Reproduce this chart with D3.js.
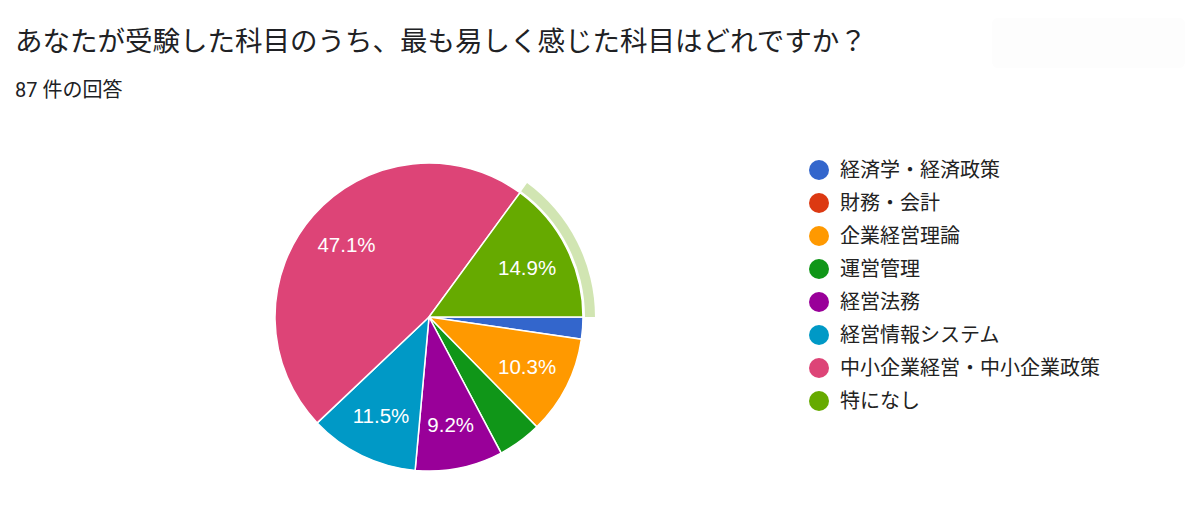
<!DOCTYPE html>
<html>
<head>
<meta charset="utf-8">
<script src="https://cdn.jsdelivr.net/npm/d3@7"></script>
<style>
  body { margin: 0; background: #fff; }
  text { font-family: Roboto, "Noto Sans CJK JP", sans-serif; }
</style>
</head>
<body>
<div id="chart"></div>
<script>
const title = 'あなたが受験した科目のうち、最も易しく感じた科目はどれですか？';
const subtitle = '87 件の回答';
const categories = ['経済学・経済政策', '財務・会計', '企業経営理論', '運営管理', '経営法務', '経営情報システム', '中小企業経営・中小企業政策', '特になし'];
const counts = [2, 0, 9, 4, 8, 10, 41, 13];
const colors = ['#3366cc', '#dc3912', '#ff9900', '#109618', '#990099', '#0099c6', '#dd4477', '#66aa00'];
const highlighted = '特になし';

const width = 1200;
const height = 513;
const cx = 429, cy = 317, r = 154;

const svg = d3.select('#chart')
  .append('svg')
  .attr('width', width)
  .attr('height', height);

// faint box top right
svg.append('rect')
  .attr('x', 992).attr('y', 18)
  .attr('width', 193).attr('height', 50)
  .attr('rx', 6)
  .attr('fill', '#fdfdfd');

svg.append('text')
  .attr('x', 15).attr('y', 51)
  .attr('font-size', 27.5)
  .attr('fill', '#202124')
  .text(title);

svg.append('text')
  .attr('x', 15).attr('y', 97)
  .attr('font-size', 20)
  .attr('fill', '#202124')
  .text(subtitle);

const total = d3.sum(counts);
const data = categories.map((c, i) => ({ name: c, value: counts[i], color: colors[i] }));

const pie = d3.pie()
  .sort(null)
  .value(d => d.value)
  .startAngle(Math.PI / 2)
  .endAngle(Math.PI / 2 + 2 * Math.PI);

const arcs = pie(data);
const arc = d3.arc().innerRadius(0).outerRadius(r);
const ring = d3.arc().innerRadius(r + 2).outerRadius(r + 12);
const labelArc = d3.arc().innerRadius(110).outerRadius(110);

const g = svg.append('g').attr('transform', `translate(${cx},${cy})`);

g.selectAll('path.hl')
  .data(arcs.filter(d => d.data.name === highlighted))
  .join('path')
    .attr('class', 'hl')
    .attr('d', ring)
    .attr('fill', d => d.data.color)
    .attr('opacity', 0.3);

g.selectAll('path.slice')
  .data(arcs.filter(d => d.value > 0))
  .join('path')
    .attr('class', 'slice')
    .attr('d', arc)
    .attr('fill', d => d.data.color)
    .attr('stroke', '#fff')
    .attr('stroke-width', 1.5);

g.selectAll('text.pct')
  .data(arcs.filter(d => d.value / total >= 0.05))
  .join('text')
    .attr('class', 'pct')
    .attr('transform', d => `translate(${labelArc.centroid(d)})`)
    .attr('text-anchor', 'middle')
    .attr('dy', '0.36em')
    .attr('fill', '#fff')
    .attr('font-size', 20.5)
    .style('font-family', 'Arial, "Liberation Sans", sans-serif')
    .text(d => (d.value / total * 100).toFixed(1) + '%');

const legend = svg.append('g').attr('transform', 'translate(819,170)');
const row = legend.selectAll('g')
  .data(data)
  .join('g')
    .attr('transform', (d, i) => `translate(0,${i * 33})`);
row.append('circle')
  .attr('r', 10)
  .attr('fill', d => d.color);
row.append('text')
  .attr('x', 21)
  .attr('dy', '0.36em')
  .attr('font-size', 20)
  .attr('fill', '#222')
  .text(d => d.name);
</script>
</body>
</html>
